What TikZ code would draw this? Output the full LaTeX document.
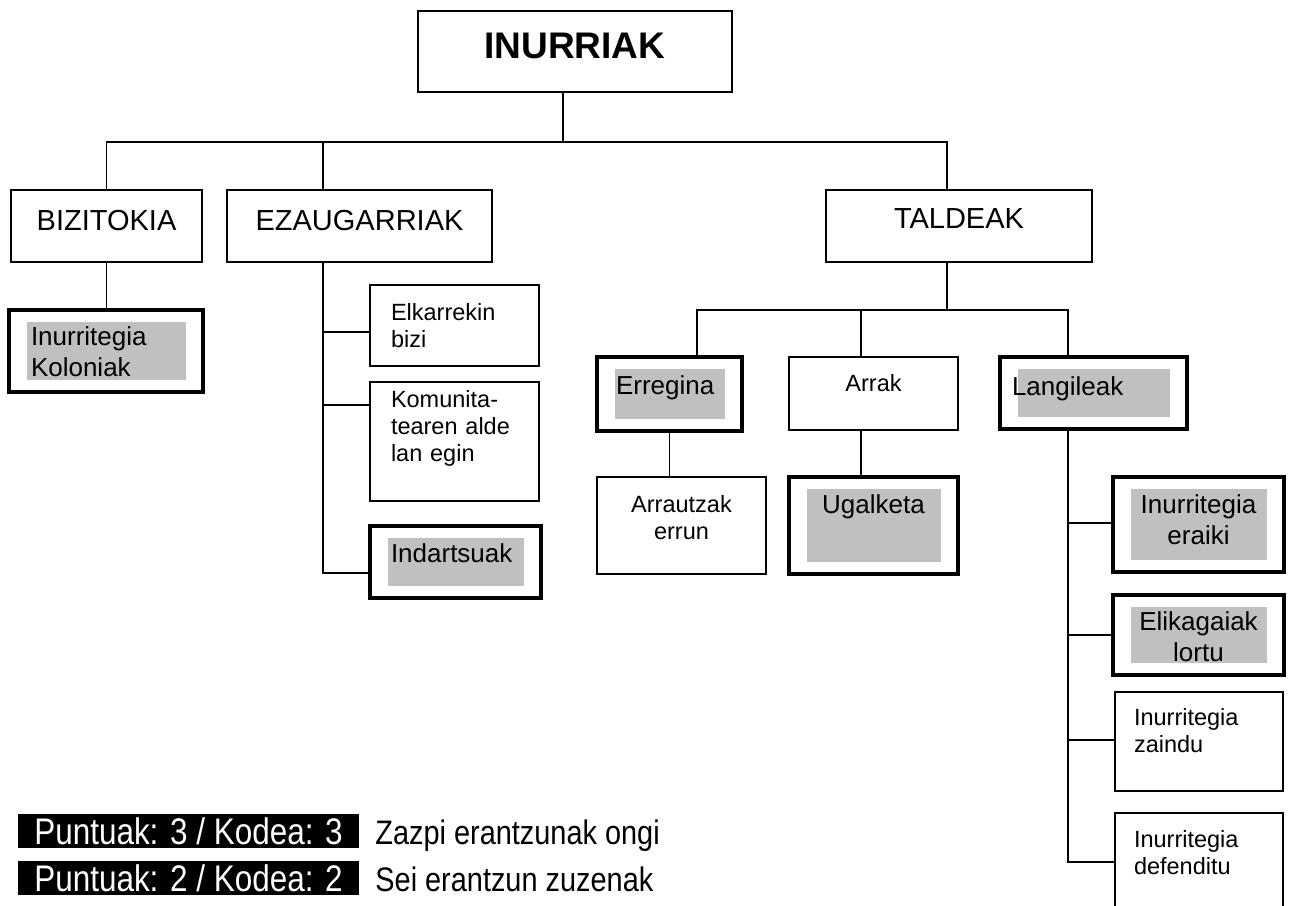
\documentclass[tikz,border=0pt]{standalone}
\usepackage{fontspec}
\setmainfont{Liberation Sans}
\newfontfamily\narrowfont{Liberation Sans}[FakeStretch=0.85]
\usetikzlibrary{positioning,calc}
\definecolor{hlgray}{HTML}{C0C0C0}

\begin{document}
\begin{tikzpicture}[x=1pt, y=-1pt,
box/.style={draw, line width=1.5pt, inner ysep=0pt, outer sep=0pt, anchor=north west, font=\fontsize{23.5}{27}\selectfont},
head/.style={box, font=\fontsize{29}{34}\selectfont},
hl/.style={box, line width=4pt, font=\fontsize{26}{31}\selectfont,
  path picture={\fill[hlgray] ([shift={(18pt,-12pt)}]path picture bounding box.north west) rectangle ([shift={(-17pt,12pt)}]path picture bounding box.south east);}},
link/.style={line width=1.5pt},
score/.style={fill=black, text=white, inner sep=0pt, minimum width=341pt, text height=30pt, text depth=4pt, font=\narrowfont\fontsize{37}{40}\selectfont},
note/.style={inner sep=0pt, font=\narrowfont\fontsize{34}{40}\selectfont}
]
\useasboundingbox (0,0) rectangle (1295,905);

% top levels
\node[box, minimum width=314pt, text height=47pt, text depth=34pt, font=\bfseries\fontsize{37}{40}\selectfont] (root) at (418,11) {INURRIAK};
\node[head, minimum width=191pt, text height=40pt, text depth=32pt] (bizi) at (11,190) {BIZITOKIA};
\node[head, minimum width=265pt, text height=40pt, text depth=32pt] (ezau) at (227,190) {EZAUGARRIAK};
\node[head, minimum width=266pt, text height=38pt, text depth=34pt] (tald) at (826,190) {TALDEAK};

% bizitokia, ezaugarriak
\node[hl, text width=150pt, inner xsep=22pt, align=left, text height=35pt, text depth=47pt] (kolon) at (9,310) {Inurritegia\\Koloniak};
\node[box, text width=127pt, inner xsep=21pt, align=left, text height=35pt, text depth=46pt] (elk) at (370,285) {Elkarrekin\\bizi};
\node[box, text width=127pt, inner xsep=21pt, align=left, text height=25pt, text depth=94pt] (komu) at (370,382) {Komunita-\\tearen alde\\lan egin};
\node[hl, text width=129pt, inner xsep=21pt, align=left, text height=36pt, text depth=36pt] (indar) at (370,526) {Indartsuak};

% taldeak
\node[hl, text width=107pt, inner xsep=19pt, align=left, text height=37pt, text depth=37pt] (erreg) at (597,357) {Erregina};
\node[box, minimum width=169pt, text height=34pt, text depth=39pt] (arrak) at (789,357) {Arrak};
\node[hl, text width=163pt, inner xsep=12pt, align=left, text height=38pt, text depth=34pt] (langi) at (1000,357) {Langileak};
\node[box, text width=149pt, inner xsep=10pt, align=center, text height=35pt, text depth=62pt] (arrau) at (597,477) {Arrautzak\\errun};
\node[hl, minimum width=169pt, text height=36pt, text depth=61pt] (ugal) at (789,477) {Ugalketa};

% langileak
\node[hl, text width=151pt, inner xsep=10pt, align=center, text height=36pt, text depth=59pt] (eraiki) at (1113,477) {Inurritegia\\eraiki};
\node[hl, text width=151pt, inner xsep=10pt, align=center, text height=35pt, text depth=45pt] (elika) at (1113,595) {Elikagaiak\\lortu};
\node[box, text width=130pt, inner xsep=19pt, align=left, text height=33pt, text depth=66pt] (zaindu) at (1115,692) {Inurritegia\\zaindu};
\node[box, text width=130pt, inner xsep=19pt, align=left, text height=34pt, text depth=70pt] (defend) at (1115,813) {Inurritegia\\defenditu};

% legend
\node[score] (p3) at (188.5,831) {Puntuak: 3 / Kodea: 3};
\node[score, below=13pt of p3] (p2) {Puntuak: 2 / Kodea: 2};
\node[note, right=16pt of p3.base east, anchor=base west] (z3) {Zazpi erantzunak ongi};
\node[note, right=16pt of p2.base east, anchor=base west] (z2) {Sei erantzun zuzenak};

% connectors
\coordinate (rootj) at (563,142);
\coordinate (ezx) at (323,262);
\draw[link] (root.south -| rootj) -- (rootj);
\draw[link] (bizi.north) |- (rootj) -| ([xshift=-12pt]tald.north);
\draw[link] (ezau.north -| ezx) -- (rootj -| ezx);
\draw[link] (bizi.south) -- (bizi.south |- kolon.north);

\coordinate (ez1) at (323,332);
\coordinate (ez2) at (323,405);
\coordinate (ez3) at (323,573);
\draw[link] (ezau.south -| ez1) |- (ez3 -| indar.west);
\draw[link] (ez1) -- (ez1 -| elk.west);
\draw[link] (ez2) -- (ez2 -| komu.west);

\coordinate (tl) at (697,310);
\coordinate (tm) at (861,310);
\coordinate (tr) at (1068,310);
\draw[link] (tald.south -| tald.south -| 947,0) -- (tl -| 947,0);
\draw[link] (erreg.north -| tl) |- (tr) -- (langi.north -| tr);
\draw[link] (tm) -- (arrak.north -| tm);
\draw[link] (erreg.south) -- (erreg.south |- arrau.north);
\draw[link] (arrak.south -| tm) -- (ugal.north -| tm);

\coordinate (l1) at (1068,523);
\coordinate (l2) at (1068,635);
\coordinate (l3) at (1068,740);
\coordinate (l4) at (1068,862);
\draw[link] (langi.south -| l1) |- (l4 -| defend.west);
\draw[link] (l1) -- (l1 -| eraiki.west);
\draw[link] (l2) -- (l2 -| elika.west);
\draw[link] (l3) -- (l3 -| zaindu.west);
\end{tikzpicture}
\end{document}
